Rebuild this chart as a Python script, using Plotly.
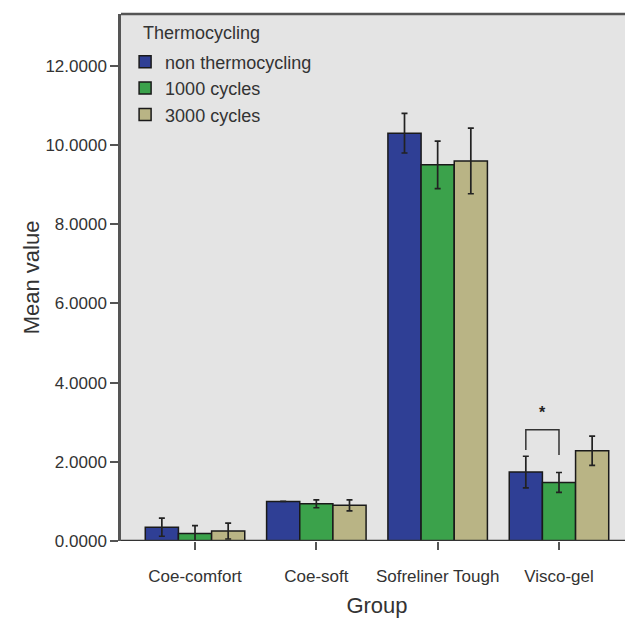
import plotly.graph_objects as go

groups = ["Coe-comfort", "Coe-soft", "Sofreliner Tough", "Visco-gel"]
series_names = ["non thermocycling", "1000 cycles", "3000 cycles"]
non_thermo = [0.35, 1.00, 10.30, 1.74]
non_thermo_err = [0.23, 0.0, 0.50, 0.40]
cycles_1000 = [0.19, 0.94, 9.50, 1.48]
cycles_1000_err = [0.20, 0.10, 0.60, 0.25]
cycles_3000 = [0.25, 0.90, 9.60, 2.28]
cycles_3000_err = [0.20, 0.14, 0.83, 0.37]
y_ticks = [0, 2, 4, 6, 8, 10, 12]
y_tick_labels = ["0.0000", "2.0000", "4.0000", "6.0000", "8.0000", "10.0000", "12.0000"]
legend_title = "Thermocycling"

colors = ["#2f3f95", "#3ba24b", "#b9b485"]
values = [non_thermo, cycles_1000, cycles_3000]
errors = [non_thermo_err, cycles_1000_err, cycles_3000_err]

FONT = "Liberation Sans, Arial, Helvetica, sans-serif"

fig = go.Figure()
for name, vals, errs, col in zip(series_names, values, errors, colors):
    fig.add_trace(go.Bar(
        x=groups, y=vals, name=name,
        marker=dict(color=col, line=dict(color="#1a1a1a", width=1.5)),
        error_y=dict(type="data", array=errs, visible=True, color="#222222",
                     thickness=1.7, width=3),
    ))

bargap = 0.18
bw = (1 - bargap) / 3
x_blue = 3 - bw
x_green = 3
fig.add_shape(type="path",
              path=f"M {x_blue},2.30 L {x_blue},2.81 L {x_green},2.81 L {x_green},2.17",
              xref="x", yref="y", line=dict(color="#333333", width=1.5))
fig.add_annotation(x=(x_blue + x_green) / 2, y=3.24, xref="x", yref="y",
                   text="<b>*</b>", showarrow=False,
                   font=dict(size=16, color="#222222", family=FONT))

# legend title as an annotation (positioned like the original)
fig.add_annotation(x=0.039, y=0.964, xref="paper", yref="paper",
                   xanchor="left", yanchor="middle", showarrow=False,
                   text=legend_title, font=dict(size=18, color="#333333", family=FONT))

fig.update_layout(
    width=625, height=613,
    margin=dict(l=113, r=0, t=6, b=80),
    paper_bgcolor="white",
    plot_bgcolor="#e4e4e4",
    barmode="group",
    bargap=bargap,
    bargroupgap=0,
    font=dict(family=FONT, color="#333333", size=17),
    showlegend=True,
    legend=dict(
        x=0.008, y=0.944, xanchor="left", yanchor="top",
        bgcolor="rgba(0,0,0,0)", font=dict(size=18, color="#333333"),
        tracegroupgap=0, itemwidth=30,
    ),
    xaxis=dict(
        range=[-0.61, 3.61],
        showline=False,
        ticks="outside", ticklen=8, tickwidth=2, tickcolor="#555555",
        ticklabelstandoff=12,
        tickfont=dict(size=17, color="#333333"),
        title=dict(text="Group", font=dict(size=22, color="#333333"), standoff=12),
        showgrid=False, zeroline=False,
    ),
    yaxis=dict(
        range=[0, 13.31],
        tickvals=y_ticks, ticktext=y_tick_labels,
        ticks="outside", ticklen=8, tickwidth=2, tickcolor="#555555",
        showline=True, linecolor="#555555", linewidth=2.5,
        tickfont=dict(size=17, color="#333333"),
        title=dict(text="Mean value", font=dict(size=22, color="#333333"), standoff=0),
        showgrid=False, zeroline=False,
    ),
)
# top border and x-axis baseline
fig.add_shape(type="line", xref="paper", yref="paper", x0=0, x1=1, y0=1, y1=1,
              line=dict(color="#555555", width=2.5))
fig.add_shape(type="line", xref="paper", yref="y", x0=0, x1=1, y0=0, y1=0,
              line=dict(color="#333333", width=2.5))

fig.write_html("out.html")
